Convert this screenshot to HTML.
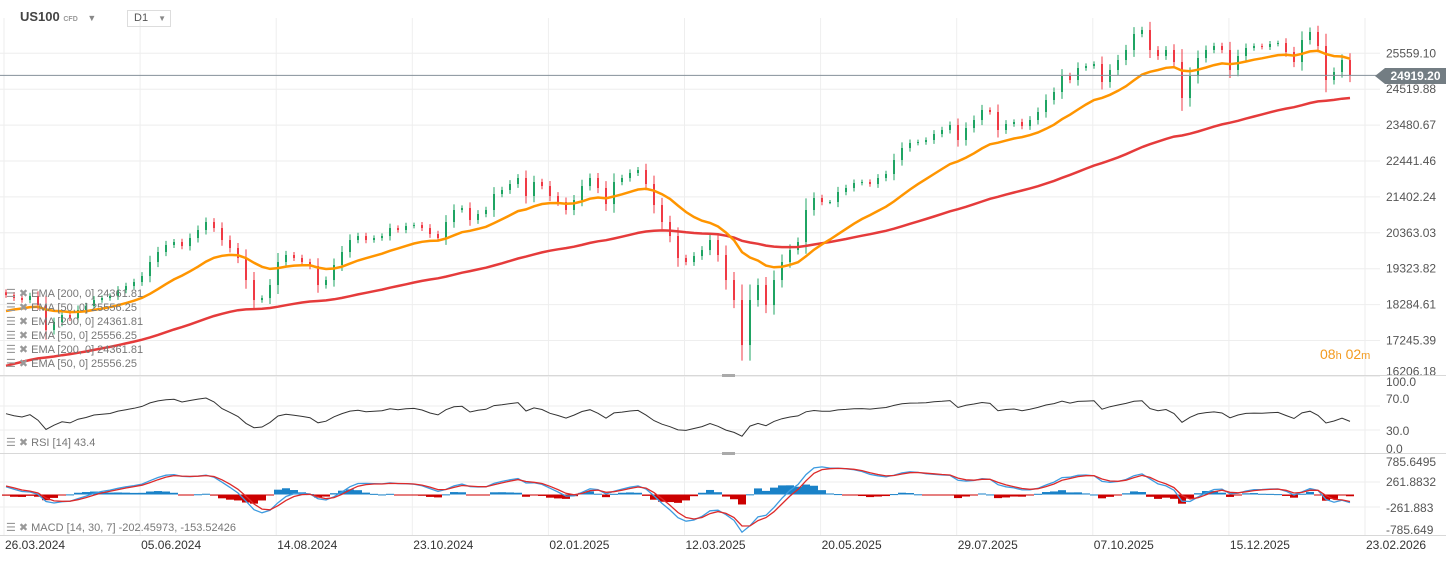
<!DOCTYPE html>
<html><head><meta charset="utf-8"><style>
body{margin:0;background:#fff;font-family:"Liberation Sans",sans-serif;}
#wrap{position:relative;width:1446px;height:562px;overflow:hidden;background:#fff}
svg{position:absolute;left:0;top:0}
.leg{position:absolute;left:6px;font-size:11px;color:#777;white-space:nowrap;line-height:14px}
.leg b{font-weight:normal;color:#999;margin-right:3px}
</style></head><body>
<div id="wrap">
<svg id="chart" width="1446" height="562"></svg>
<div style="position:absolute;left:20px;top:9px;font-size:13px;font-weight:bold;color:#444">US100 <span style="font-size:7px;color:#999;font-weight:bold">CFD</span> <span style="font-size:9px;color:#888;margin-left:6px">▼</span></div>
<div style="position:absolute;left:127px;top:10px;width:42px;height:15px;border:1px solid #ddd;font-size:11px;color:#555;line-height:15px;box-sizing:content-box"><span style="margin-left:6px">D1</span><span style="position:absolute;right:4px;font-size:8px;color:#888">▼</span></div>
<div class="leg" style="top:287px"><b>☰ ✖</b>EMA [200, 0] 24361.81</div>
<div class="leg" style="top:301px"><b>☰ ✖</b>EMA [50, 0] 25556.25</div>
<div class="leg" style="top:315px"><b>☰ ✖</b>EMA [200, 0] 24361.81</div>
<div class="leg" style="top:329px"><b>☰ ✖</b>EMA [50, 0] 25556.25</div>
<div class="leg" style="top:343px"><b>☰ ✖</b>EMA [200, 0] 24361.81</div>
<div class="leg" style="top:357px"><b>☰ ✖</b>EMA [50, 0] 25556.25</div>
<div class="leg" style="top:436px"><b>☰ ✖</b>RSI [14] 43.4</div>
<div class="leg" style="top:521px"><b>☰ ✖</b>MACD [14, 30, 7] -202.45973, -153.52426</div>
<div style="position:absolute;left:1385px;top:68px;width:61px;height:16px;background:#737d83;color:#fff;font-size:12px;font-weight:bold;line-height:16px;text-align:center">24919.20</div>
<div style="position:absolute;left:1375px;top:68px;width:0;height:0;border-top:8px solid transparent;border-bottom:8px solid transparent;border-right:10px solid #737d83"></div>
<div style="position:absolute;left:1320px;top:346px;color:#f39a1e;font-size:14px">08<span style="font-size:11px">h</span> 02<span style="font-size:11px">m</span></div>
</div>
<script>
const closes=[18562,18475,18417,18533,18272,17549,17780,17983,17896,18128,18244,18417,18475,18533,18707,18822,18938,19112,19517,19807,20009,20096,19980,20212,20444,20675,20501,20154,19922,19633,18996,18417,18475,18851,19517,19720,19633,19517,19401,18851,18996,19430,19807,20154,20270,20154,20212,20270,20501,20444,20559,20588,20501,20328,20212,20675,21023,21080,20733,20907,21023,21486,21602,21775,21949,21428,21833,21717,21428,21254,21023,21312,21717,21949,21660,21196,21833,21949,22094,22181,21775,21167,20675,20270,19633,19517,19691,19864,20154,19720,18996,18417,17114,18417,18851,18272,18996,19517,19864,20096,21023,21370,21254,21254,21544,21660,21804,21833,21775,21949,22065,22470,22817,22962,22991,23049,23223,23339,23483,23049,23396,23628,23918,23860,23339,23512,23570,23454,23628,23860,24207,24439,24902,24786,25133,25191,25249,24728,25076,25365,25655,26118,26234,25655,25481,25655,25307,24265,24902,25423,25655,25770,25655,25076,25481,25712,25770,25741,25828,25857,25597,25307,25944,26176,25770,24786,25018,25365,24919.2];
const priceTicks=["25559.10","24519.88","23480.67","22441.46","21402.24","20363.03","19323.82","18284.61","17245.39","16206.18"];
const rsiTicks=[100,70,30,0];
const macdTicks=["785.6495","261.8832","-261.883","-785.649"];
const dateLabels=["26.03.2024","05.06.2024","14.08.2024","23.10.2024","02.01.2025","12.03.2025","20.05.2025","29.07.2025","07.10.2025","15.12.2025","23.02.2026"];
const ema50Seed=18040, ema200Seed=16450;

const svg=document.getElementById('chart');const NS='http://www.w3.org/2000/svg';
function mk(t,a,p){const e=document.createElementNS(NS,t);for(const k in a)e.setAttribute(k,a[k]);(p||svg).appendChild(e);return e;}
const X=i=>6+i*8;
const YP=v=>53.3+(25559.1-v)/1039.21*35.9;
const YR=v=>448-v*0.6;
const YM=v=>494.5-v/21;
const al=n=>1-Math.pow(1-2/(n+1),3);

for(let k=0;k<11;k++){const gx=4+k*136.1;const l=mk('line',{x1:gx,y1:18,x2:gx,y2:535,stroke:'#eeeeee'});
const t=mk('text',{x:gx+1,y:549,'font-size':12,fill:'#333'});t.textContent=dateLabels[k];}
priceTicks.forEach((s,k)=>{const y=YP(parseFloat(s));const l=mk('line',{x1:0,y1:y,x2:1380,y2:y,stroke:'#eeeeee'});
if(Math.abs(y-75)>8){const t=mk('text',{x:1386,y:k==9?y-1:y+4,'font-size':12,fill:'#555'});t.textContent=s;}});
rsiTicks.forEach(v=>{const y=YR(v);if(v==70||v==30){const l=mk('line',{x1:0,y1:y,x2:1380,y2:y,stroke:'#eeeeee'});}
const t=mk('text',{x:1386,y:v==100?386:v==70?403:v==30?435:453,'font-size':12,fill:'#555'});t.textContent=v.toFixed(1);});
macdTicks.forEach((s,k)=>{const yy=[466,486,512,534][k];if(k==1||k==2){const l=mk('line',{x1:0,y1:YM(parseFloat(s)),x2:1380,y2:YM(parseFloat(s)),stroke:'#eeeeee'});}
const t=mk('text',{x:1386,y:yy,'font-size':12,fill:'#555'});t.textContent=s;});
[375.5,453.5,535.5].forEach(y=>{const l=mk('line',{x1:0,y1:y,x2:1446,y2:y,stroke:'#d8d8d8'});});
[375,453].forEach(y=>{const r=mk('rect',{x:722,y:y-1,width:13,height:3,fill:'#aaa'});});

closes.forEach((c,i)=>{const o=i?closes[i-1]:c+80;const up=c>=o;const d=Math.abs(c-o);
const hi=Math.max(o,c)+d*0.3+60, lo=Math.min(o,c)-d*0.3-60;const col=up?'#1fa463':'#f03a45';
const w=mk('line',{x1:X(i),y1:YP(hi),x2:X(i),y2:YP(lo),stroke:col,'stroke-width':1});
const b=mk('rect',{x:X(i)-1,y:Math.min(YP(o),YP(c)),width:2,height:Math.max(1,Math.abs(YP(o)-YP(c))),fill:col});});

function ema(n,seed){let e=seed;const a=al(n);return closes.map(c=>(e=e+a*(c-e)));}
const e50=ema(50,ema50Seed),e200=ema(200,ema200Seed);
const pl=(arr,f)=>arr.map((v,i)=>X(i).toFixed(1)+','+f(v).toFixed(1)).join(' ');
let p=mk('polyline',{points:pl(e200,YP),fill:'none',stroke:'#e53b3b','stroke-width':2.5});
p=mk('polyline',{points:pl(e50,YP),fill:'none',stroke:'#ff9500','stroke-width':2.5});
p=mk('line',{x1:0,y1:YP(24919.2),x2:1380,y2:YP(24919.2),stroke:'#84909a','stroke-width':1});

let ag=80,alo=60;const ra=1/12;
const rsi=closes.map((c,i)=>{const ch=i?c-closes[i-1]:0;ag+=ra*(Math.max(ch,0)-ag);alo+=ra*(Math.max(-ch,0)-alo);return 100-100/(1+ag/alo);});
p=mk('polyline',{points:pl(rsi,YR),fill:'none',stroke:'#333','stroke-width':1});

let f=closes[0]+100,s=closes[0]-120,sg=200;const mac=[],sig=[];
closes.forEach(c=>{f+=al(14)*(c-f);s+=al(30)*(c-s);const m=f-s;sg+=al(7)*(m-sg);mac.push(m);sig.push(sg);});
mac.forEach((m,i)=>{const h=(m-sig[i])*1.6;const y0=YM(0),y1=YM(h);const r=mk('rect',{x:X(i)-4,y:Math.min(y0,y1),width:8,height:Math.max(1,Math.abs(y1-y0)),fill:h>=0?'#1a82c8':'#cc0000'});});
p=mk('polyline',{points:pl(mac,YM),fill:'none',stroke:'#3d9be0','stroke-width':1.3});
p=mk('polyline',{points:pl(sig,YM),fill:'none',stroke:'#dd2a2a','stroke-width':1.3});
</script>
</body></html>
